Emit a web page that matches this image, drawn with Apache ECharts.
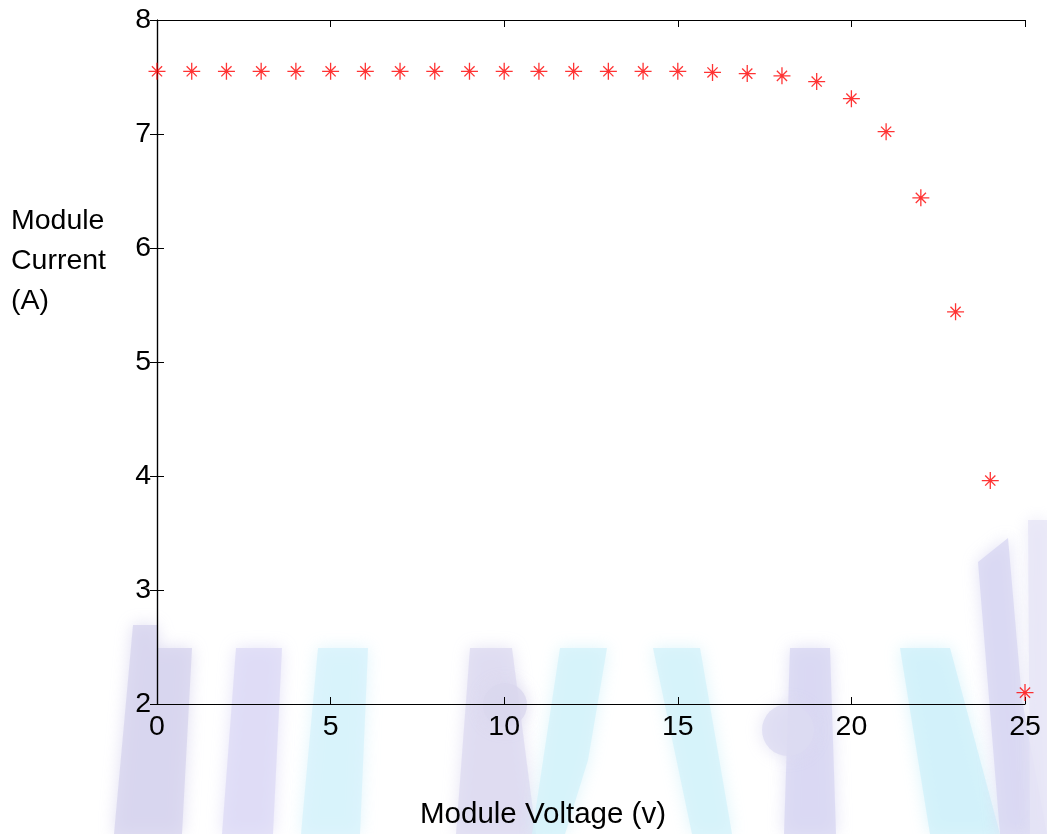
<!DOCTYPE html>
<html>
<head>
<meta charset="utf-8">
<script src="https://cdn.jsdelivr.net/npm/echarts@6/dist/echarts.min.js"></script>
<style>html,body{margin:0;padding:0;background:#fff;}#c{width:1047px;height:834px;}</style>
</head>
<body>
<div id="c"></div>
<script>
// Data
const voltage = [0,1,2,3,4,5,6,7,8,9,10,11,12,13,14,15,16,17,18,19,20,21,22,23,24,25];
const current = [7.55,7.55,7.55,7.55,7.55,7.55,7.55,7.55,7.55,7.55,7.55,7.55,7.55,7.55,7.55,7.55,7.54,7.53,7.51,7.46,7.31,7.02,6.44,5.44,3.96,2.10];
const xTitle = 'Module Voltage (v)';
const yTitle = 'Module\nCurrent\n(A)';

const FONT = 'Liberation Sans, Arial, sans-serif';
const chart = echarts.init(document.getElementById('c'), null, {renderer: 'canvas'});

function wm(points, color) {
  return {type: 'polygon', z: -10, silent: true,
    shape: {points: points},
    style: {fill: color, opacity: 0.75, shadowBlur: 16, shadowColor: color}};
}
function wc(cx, cy, r, color) {
  return {type: 'circle', z: -10, silent: true, shape: {cx: cx, cy: cy, r: r},
    style: {fill: color, opacity: 0.75, shadowBlur: 16, shadowColor: color}};
}

const asterisk = 'path://M10,0L10,20M0,10L20,10M4,4L16,16M4,16L16,4';
const axisCommon = {
  axisLine: {show: true, lineStyle: {color: '#000', width: 1.2}},
  axisTick: {show: true, inside: true, length: 7, lineStyle: {color: '#000', width: 1}},
  splitLine: {show: false}
};

chart.setOption({
  animation: false,
  backgroundColor: '#fff',
  grid: {left: 157, right: 22, top: 20, bottom: 130, containLabel: false},
  xAxis: [
    Object.assign({type: 'value', position: 'bottom', min: 0, max: 25, interval: 5,
      axisLabel: {fontSize: 28.5, color: '#000', fontFamily: FONT, margin: 9, showMinLabel: true, showMaxLabel: true}}, axisCommon),
    Object.assign({type: 'value', position: 'top', min: 0, max: 25, interval: 5,
      axisLabel: {show: false}}, axisCommon)
  ],
  yAxis: [
    Object.assign({type: 'value', position: 'left', min: 2, max: 8, interval: 1,
      axisLabel: {fontSize: 28.5, color: '#000', fontFamily: FONT, margin: 6, showMinLabel: true, showMaxLabel: true}}, axisCommon),
    Object.assign({type: 'value', position: 'right', min: 2, max: 8, interval: 1,
      axisLabel: {show: false}}, axisCommon)
  ],
  series: [{
    type: 'scatter',
    xAxisIndex: 0, yAxisIndex: 0,
    data: voltage.map((v, i) => [v, current[i]]),
    symbol: asterisk,
    symbolSize: 17,
    symbolKeepAspect: true,
    itemStyle: {color: 'rgba(0,0,0,0)', borderColor: '#ff0000', borderWidth: 1.3},
    clip: false,
    z: 5
  }],
  graphic: [
    // faint watermark in the lower part
    wm([[133,625],[157,625],[157,648],[192,648],[182,834],[114,834]], '#d6d3ee'),
    wm([[236,648],[282,648],[273,834],[222,834]], '#dcdaf6'),
    wm([[318,648],[368,648],[360,834],[301,834]], '#d5f1fb'),
    wm([[470,648],[512,648],[536,834],[456,834]], '#dcdaf0'),
    wc(505, 705, 22, '#d9d7ee'),
    wm([[560,648],[607,648],[588,760],[565,834],[532,834]], '#d3f2fa'),
    wm([[653,648],[700,648],[732,834],[692,834]], '#d3f2fa'),
    wm([[790,648],[830,648],[836,834],[784,834]], '#d7d5f1'),
    wc(788, 730, 26, '#dcdbf2'),
    wm([[900,648],[950,648],[1000,834],[930,834]], '#cff0fa'),
    wm([[978,562],[1008,538],[1022,700],[1047,834],[1000,834]], '#d7d5f2'),
    wm([[1028,520],[1047,520],[1047,834],[1030,834]], '#e6e4f6'),
    // axis titles
    {type: 'text', z: 10, x: 543, y: 815,
      style: {text: xTitle, fontSize: 29.5, fontFamily: FONT, fill: '#000', textAlign: 'center', textVerticalAlign: 'middle'}},
    {type: 'text', z: 10, x: 11, y: 201,
      style: {text: yTitle, fontSize: 28.5, lineHeight: 40, fontFamily: FONT, fill: '#000', textAlign: 'left', textVerticalAlign: 'top'}}
  ]
});
</script>
</body>
</html>
